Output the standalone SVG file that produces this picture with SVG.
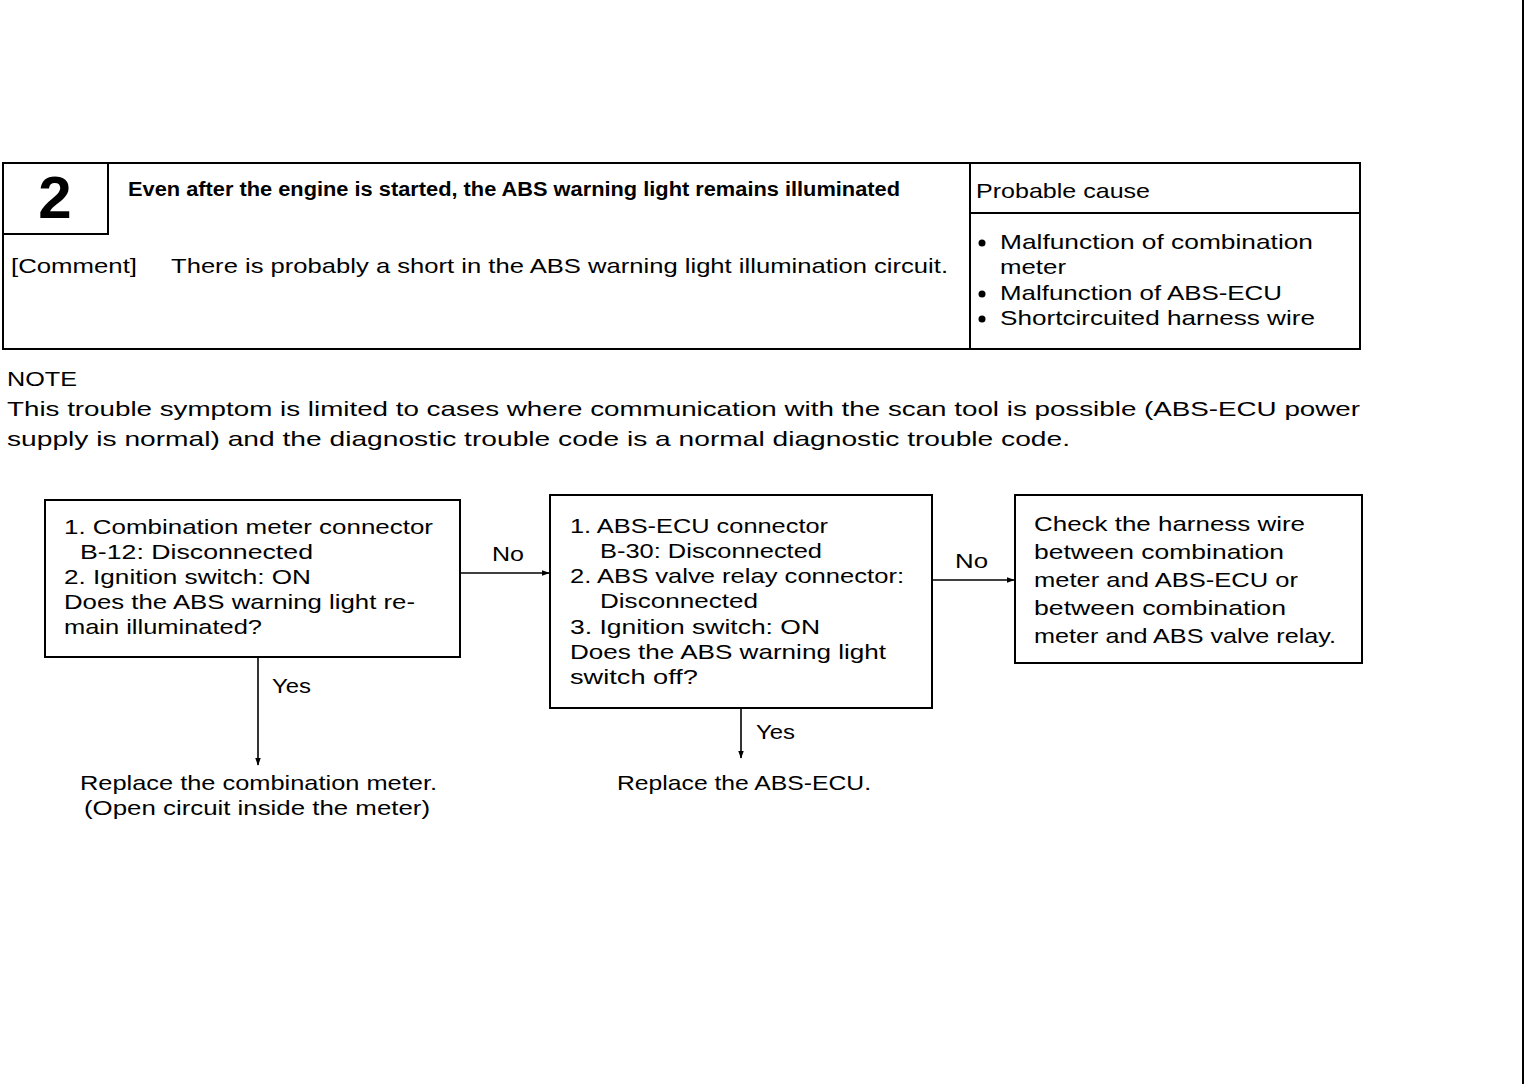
<svg xmlns="http://www.w3.org/2000/svg" width="1536" height="1084" viewBox="0 0 1536 1084">
<defs>
<style>
text{font-family:"Liberation Sans","DejaVu Sans",sans-serif;fill:#000}
.t{font-size:21px}
.b{font-size:20px;font-weight:bold}
.box{fill:#fff;stroke:#000;stroke-width:2}
.ln{fill:none;stroke:#000;stroke-width:2}
.cn{fill:none;stroke:#000;stroke-width:1.6}
</style>
<marker id="ah" viewBox="0 0 10 10" refX="9" refY="5" markerWidth="8" markerHeight="8" orient="auto-start-reverse" markerUnits="userSpaceOnUse">
<path d="M0,1.5 L10,5 L0,8.5 z" fill="#000"/>
</marker>
</defs>
<rect width="1536" height="1084" fill="#fff"/>
<line x1="1523" y1="0" x2="1523" y2="1084" class="ln"/>

<g id="header">
<rect x="3" y="163" width="1357" height="186" class="box"/>
<rect x="3" y="163" width="105" height="71" class="box"/>
<line x1="970" y1="163" x2="970" y2="349" class="ln"/>
<line x1="970" y1="213" x2="1360" y2="213" class="ln"/>
<text x="55" y="218" text-anchor="middle" style="font-size:60px;font-weight:bold">2</text>
<text x="128" y="196" class="b" textLength="772" lengthAdjust="spacingAndGlyphs">Even after the engine is started, the ABS warning light remains illuminated</text>
<text x="976" y="198" class="t" textLength="174" lengthAdjust="spacingAndGlyphs">Probable cause</text>
<text x="11" y="273" class="t" textLength="126" lengthAdjust="spacingAndGlyphs">[Comment]</text>
<text x="171" y="273" class="t" textLength="777" lengthAdjust="spacingAndGlyphs">There is probably a short in the ABS warning light illumination circuit.</text>
<circle cx="982" cy="243" r="3.5"/>
<text x="1000" y="249" class="t" textLength="313" lengthAdjust="spacingAndGlyphs">Malfunction of combination</text>
<text x="1000" y="274" class="t" textLength="66" lengthAdjust="spacingAndGlyphs">meter</text>
<circle cx="982" cy="294" r="3.5"/>
<text x="1000" y="300" class="t" textLength="282" lengthAdjust="spacingAndGlyphs">Malfunction of ABS-ECU</text>
<circle cx="982" cy="319" r="3.5"/>
<text x="1000" y="325" class="t" textLength="315" lengthAdjust="spacingAndGlyphs">Shortcircuited harness wire</text>
</g>

<g id="note">
<text x="7" y="386" class="t" textLength="70" lengthAdjust="spacingAndGlyphs">NOTE</text>
<text x="7" y="416" class="t" textLength="1353" lengthAdjust="spacingAndGlyphs">This trouble symptom is limited to cases where communication with the scan tool is possible (ABS-ECU power</text>
<text x="7" y="446" class="t" textLength="1063" lengthAdjust="spacingAndGlyphs">supply is normal) and the diagnostic trouble code is a normal diagnostic trouble code.</text>
</g>

<g id="connectors">
<line x1="460" y1="573" x2="549" y2="573" class="cn" marker-end="url(#ah)"/>
<text x="492" y="561" class="t" textLength="32" lengthAdjust="spacingAndGlyphs">No</text>
<line x1="932" y1="580" x2="1014" y2="580" class="cn" marker-end="url(#ah)"/>
<text x="955" y="568" class="t" textLength="33" lengthAdjust="spacingAndGlyphs">No</text>
<line x1="258" y1="657" x2="258" y2="765" class="cn" marker-end="url(#ah)"/>
<text x="272" y="693" class="t" textLength="39" lengthAdjust="spacingAndGlyphs">Yes</text>
<line x1="741" y1="708" x2="741" y2="758" class="cn" marker-end="url(#ah)"/>
<text x="756" y="739" class="t" textLength="39" lengthAdjust="spacingAndGlyphs">Yes</text>
</g>

<g id="step1">
<rect x="45" y="500" width="415" height="157" class="box"/>
<text x="64" y="534" class="t" textLength="369" lengthAdjust="spacingAndGlyphs">1. Combination meter connector</text>
<text x="80" y="559" class="t" textLength="233" lengthAdjust="spacingAndGlyphs">B-12: Disconnected</text>
<text x="64" y="584" class="t" textLength="247" lengthAdjust="spacingAndGlyphs">2. Ignition switch: ON</text>
<text x="64" y="609" class="t" textLength="351" lengthAdjust="spacingAndGlyphs">Does the ABS warning light re-</text>
<text x="64" y="634" class="t" textLength="198" lengthAdjust="spacingAndGlyphs">main illuminated?</text>
</g>

<g id="step2">
<rect x="550" y="495" width="382" height="213" class="box"/>
<text x="570" y="533" class="t" textLength="258" lengthAdjust="spacingAndGlyphs">1. ABS-ECU connector</text>
<text x="600" y="558" class="t" textLength="222" lengthAdjust="spacingAndGlyphs">B-30: Disconnected</text>
<text x="570" y="583" class="t" textLength="334" lengthAdjust="spacingAndGlyphs">2. ABS valve relay connector:</text>
<text x="600" y="608" class="t" textLength="158" lengthAdjust="spacingAndGlyphs">Disconnected</text>
<text x="570" y="634" class="t" textLength="250" lengthAdjust="spacingAndGlyphs">3. Ignition switch: ON</text>
<text x="570" y="659" class="t" textLength="316" lengthAdjust="spacingAndGlyphs">Does the ABS warning light</text>
<text x="570" y="684" class="t" textLength="128" lengthAdjust="spacingAndGlyphs">switch off?</text>
</g>

<g id="step3">
<rect x="1015" y="495" width="347" height="168" class="box"/>
<text x="1034" y="531" class="t" textLength="271" lengthAdjust="spacingAndGlyphs">Check the harness wire</text>
<text x="1034" y="559" class="t" textLength="250" lengthAdjust="spacingAndGlyphs">between combination</text>
<text x="1034" y="587" class="t" textLength="264" lengthAdjust="spacingAndGlyphs">meter and ABS-ECU or</text>
<text x="1034" y="615" class="t" textLength="252" lengthAdjust="spacingAndGlyphs">between combination</text>
<text x="1034" y="643" class="t" textLength="302" lengthAdjust="spacingAndGlyphs">meter and ABS valve relay.</text>
</g>

<g id="result1">
<text x="80" y="790" class="t" textLength="357" lengthAdjust="spacingAndGlyphs">Replace the combination meter.</text>
<text x="84" y="815" class="t" textLength="346" lengthAdjust="spacingAndGlyphs">(Open circuit inside the meter)</text>
</g>

<g id="result2">
<text x="617" y="790" class="t" textLength="254" lengthAdjust="spacingAndGlyphs">Replace the ABS-ECU.</text>
</g>
</svg>
